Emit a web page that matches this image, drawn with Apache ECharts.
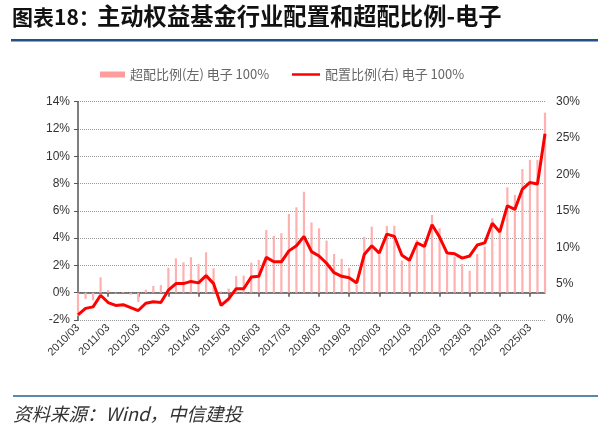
<!DOCTYPE html>
<html>
<head>
<meta charset="utf-8">
<script src="https://cdn.jsdelivr.net/npm/echarts@6/dist/echarts.min.js"></script>
<style>
html,body{margin:0;padding:0;background:#fff;}
#chart{width:598px;height:434px;}
</style>
</head>
<body>
<div id="chart"></div>
<script>
// Quarterly categories 2010/03 .. 2025/09
var startYear = 2010, endYear = 2025, endMonth = 9;
var categories = [];
for (var y = startYear; y <= endYear; y++) {
  ['03','06','09','12'].forEach(function (m) {
    if (y === endYear && parseInt(m, 10) > endMonth) return;
    categories.push(y + '/' + m);
  });
}

// 超配比例(左) 电子 100%  (left axis, %)
var overweight = [
  -1.7, -0.45, -0.55, 1.13, 0.2, -0.05, 0.05, -0.15,
  -0.68, 0.22, 0.5, 0.56, 1.83, 2.52, 2.23, 2.6,
  2.1, 2.96, 1.79, 0.1, 0.3, 1.22, 1.25, 2.2,
  2.4, 4.6, 4.16, 4.36, 5.77, 6.26, 7.4, 5.15,
  4.72, 3.82, 2.84, 2.48, 1.82, 0.6, 4.1, 4.84,
  2.8, 4.9, 4.9, 2.35, 2.6, 3.87, 3.79, 5.7,
  4.72, 2.77, 2.64, 2.1, 1.61, 2.84, 3.38, 5.46,
  4.48, 7.73, 7.17, 9.07, 9.74, 9.74, 13.2
];

// 配置比例(右) 电子 100%  (right axis, %)
var allocation = [
  0.7, 1.6, 1.8, 3.4, 2.4, 2.0, 2.1, 1.7,
  1.3, 2.3, 2.5, 2.4, 4.1, 5.0, 5.0, 5.3,
  5.1, 6.1, 5.0, 2.0, 2.9, 4.3, 4.3, 5.9,
  6.0, 8.6, 8.0, 8.0, 9.5, 10.2, 11.5, 9.4,
  8.8, 7.8, 6.5, 6.0, 5.8, 5.1, 9.0, 10.2,
  9.2, 11.8, 11.5, 8.9, 8.2, 10.6, 10.1, 13.1,
  11.4, 9.2, 9.1, 8.5, 8.8, 10.3, 10.6, 13.3,
  12.1, 15.7, 15.2, 18.0, 18.9, 18.7, 25.6
];

var leftAxis = {min: -2, max: 14, interval: 2};
var rightAxis = {min: 0, max: 30, interval: 5};

var seriesNames = ['超配比例(左) 电子 100%', '配置比例(右) 电子 100%'];
var titleLead = '图表18：';
var titleMain = '主动权益基金行业配置和超配比例-电子';
var sourceText = '资料来源：Wind，中信建投';

var chart = echarts.init(document.getElementById('chart'), null, {renderer: 'canvas'});
var axisFont = 'Liberation Sans, Arial, sans-serif';
var cjkFont = '"Noto Sans CJK SC", sans-serif';
var legendText = {fontSize: 13, color: '#666', fontFamily: cjkFont};

chart.setOption({
  animation: false,
  backgroundColor: '#ffffff',
  graphic: [
    {type: 'text', left: 12, top: 7, style: {text: titleLead, font: 'bold 21px ' + cjkFont, fill: '#111'}},
    {type: 'text', left: 97, top: 5, style: {text: titleMain, font: 'bold 23.3px ' + cjkFont, fill: '#111'}},
    {type: 'rect', shape: {x: 11, y: 39, width: 587, height: 2.5}, style: {fill: '#22518A'}},
    {type: 'rect', shape: {x: 13, y: 395, width: 585, height: 2}, style: {fill: '#5B87A8'}},
    {type: 'text', left: 13, top: 405, style: {text: sourceText, font: 'italic 18.5px ' + cjkFont, fill: '#333'}}
  ],
  legend: [
    {
      left: 95, top: 63,
      itemWidth: 25, itemHeight: 6,
      textStyle: legendText,
      data: [{name: seriesNames[0], icon: 'rect', itemStyle: {color: '#FF9C9C'}}]
    },
    {
      left: 287, top: 63,
      itemWidth: 28, itemHeight: 2.5, itemGap: 4,
      textStyle: legendText,
      data: [{name: seriesNames[1], icon: 'rect', itemStyle: {color: '#FF0000'}}]
    }
  ],
  grid: {left: 78, right: 53, top: 101.7, bottom: 114, containLabel: false},
  xAxis: [
    {
      type: 'category', data: categories, boundaryGap: false,
      axisLine: {show: false, onZero: false},
      axisTick: {show: false},
      splitLine: {show: false},
      axisLabel: {interval: 3, rotate: 45, fontSize: 11, color: '#333', fontFamily: axisFont, margin: 6}
    },
    {
      type: 'category', data: categories, boundaryGap: false, position: 'bottom',
      axisLine: {show: true, onZero: true, lineStyle: {color: '#555', width: 1.5}},
      axisTick: {show: true, interval: 3, length: 4, lineStyle: {color: '#555', width: 1.5}},
      axisLabel: {show: false},
      splitLine: {show: false}
    }
  ],
  yAxis: [
    {
      type: 'value', min: leftAxis.min, max: leftAxis.max, interval: leftAxis.interval,
      axisLine: {show: true, lineStyle: {color: '#555', width: 1.5}},
      axisTick: {show: true, length: 4, lineStyle: {color: '#555'}},
      axisLabel: {formatter: '{value}%', fontSize: 12, color: '#333', fontFamily: axisFont, margin: 8},
      splitLine: {show: true, lineStyle: {type: 'dotted', color: '#999', width: 1}}
    },
    {
      type: 'value', min: rightAxis.min, max: rightAxis.max, interval: rightAxis.interval,
      axisLine: {show: false}, axisTick: {show: false},
      axisLabel: {formatter: '{value}%', fontSize: 12, color: '#333', fontFamily: axisFont, margin: 11},
      splitLine: {show: false}
    }
  ],
  series: [
    {
      name: seriesNames[0], type: 'bar', xAxisIndex: 0, yAxisIndex: 0,
      data: overweight, barWidth: 2.2,
      itemStyle: {color: '#FFB0B0'}, z: 2
    },
    {
      name: seriesNames[1], type: 'line', xAxisIndex: 0, yAxisIndex: 1,
      data: allocation, symbol: 'none', smooth: false,
      lineStyle: {color: '#FF0000', width: 3}, itemStyle: {color: '#FF0000'}, z: 5
    }
  ]
});
</script>
</body>
</html>
